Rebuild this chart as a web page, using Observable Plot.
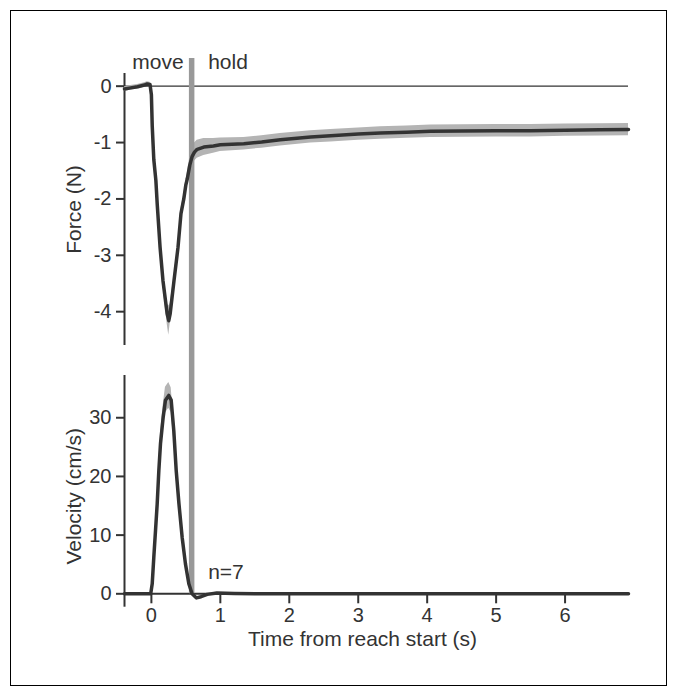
<!DOCTYPE html>
<html>
<head>
<meta charset="utf-8">
<script src="https://cdn.jsdelivr.net/npm/d3@7"></script>
<script src="https://cdn.jsdelivr.net/npm/@observablehq/plot@0.6"></script>
<style>
  html, body { margin: 0; padding: 0; background: #fff; }
  #wrap { position: relative; width: 677px; height: 696px; overflow: hidden; }
  #frame { position: absolute; left: 10px; top: 10px; width: 657px; height: 676px; border: 1px solid #000; box-sizing: border-box; }
  #topPanel, #bottomPanel { position: absolute; left: 0; }
  #topPanel { top: 0; }
  #bottomPanel { top: 360px; }
  svg { overflow: visible; }
</style>
</head>
<body>
<div id="wrap">
  <div id="frame"></div>
  <div id="topPanel"></div>
  <div id="bottomPanel"></div>
</div>
<script>
// ---------- data ----------
const xDomain = [-0.39, 6.92];
const holdTime = [0.584];
const phaseLabels = ["move", "hold"];
const nLabel = "n=7";
const forceTicks = [-4, -3, -2, -1, 0];
const velocityTicks = [0, 10, 20, 30];
const timeTicks = [0, 1, 2, 3, 4, 5, 6];
const forceLabel = "Force (N)";
const velocityLabel = "Velocity (cm/s)";
const timeLabel = "Time from reach start (s)";

const forceTime = [-0.39, -0.30, -0.20, -0.10, -0.06, -0.02, 0.00, 0.012, 0.035, 0.065, 0.085, 0.126, 0.168, 0.229, 0.252, 0.272, 0.328, 0.386, 0.429, 0.47, 0.50, 0.52, 0.557, 0.59, 0.625, 0.664, 0.76, 0.90, 1.00, 1.34, 1.60, 1.87, 2.31, 2.60, 3.00, 3.32, 3.70, 4.05, 4.50, 5.00, 5.50, 6.00, 6.50, 6.92];
const forceMean = [-0.05, -0.03, -0.01, 0.02, 0.04, 0.03, -0.15, -0.70, -1.30, -1.67, -2.10, -2.86, -3.45, -4.04, -4.16, -4.04, -3.45, -2.86, -2.26, -2.00, -1.75, -1.65, -1.40, -1.25, -1.17, -1.12, -1.08, -1.06, -1.04, -1.02, -0.99, -0.95, -0.90, -0.88, -0.85, -0.83, -0.815, -0.80, -0.795, -0.79, -0.79, -0.78, -0.775, -0.77];
const forceErr  = [0.04, 0.04, 0.04, 0.04, 0.04, 0.04, 0.06, 0.08, 0.08, 0.08, 0.08, 0.08, 0.10, 0.18, 0.26, 0.18, 0.08, 0.08, 0.08, 0.08, 0.09, 0.10, 0.13, 0.15, 0.16, 0.16, 0.15, 0.13, 0.12, 0.11, 0.11, 0.11, 0.11, 0.11, 0.11, 0.11, 0.11, 0.11, 0.11, 0.11, 0.11, 0.11, 0.11, 0.11];

const velTime = [-0.39, -0.20, -0.05, -0.01, 0.012, 0.035, 0.06, 0.084, 0.108, 0.132, 0.171, 0.204, 0.252, 0.287, 0.325, 0.36, 0.40, 0.446, 0.494, 0.543, 0.59, 0.654, 0.72, 0.81, 0.95, 1.20, 1.50, 2.00, 3.00, 4.00, 5.00, 6.00, 6.92];
const velMean = [0, 0, 0, 0, 1.7, 6.2, 10.8, 15.3, 21.0, 25.6, 30.1, 33.0, 33.8, 33.0, 27.8, 21.0, 15.3, 9.65, 5.1, 1.7, 0, -0.7, -0.5, -0.1, 0.15, 0.05, 0, 0, 0, 0, 0, 0, 0];
const velErr  = [0.05, 0.05, 0.05, 0.05, 0.3, 0.6, 0.9, 1.2, 1.5, 1.8, 2.0, 2.2, 2.2, 2.1, 1.8, 1.4, 1.1, 0.8, 0.5, 0.3, 0.2, 0.15, 0.1, 0.1, 0.05, 0.05, 0.05, 0.05, 0.05, 0.05, 0.05, 0.05, 0.05];

const forceRows = forceTime.map((t, i) => ({t, mean: forceMean[i], err: forceErr[i]}));
const velRows = velTime.map((t, i) => ({t, mean: velMean[i], err: velErr[i]}));

// ---------- style ----------
const ink = "#333";
const bandFill = "#b4b4b4";
const barStroke = "#999";
const style = {fontFamily: '"Liberation Sans", Arial, Helvetica, sans-serif', fontSize: "21px", color: ink, background: "transparent", overflow: "visible"};
const W = 677, ML = 124, MR = 49;
const plainFormat = d => String(d);

// ---------- force panel ----------
const topPlot = Plot.plot({
  width: W, height: 360,
  marginTop: 73, marginBottom: 15, marginLeft: ML, marginRight: MR,
  style,
  x: {domain: xDomain, axis: null},
  y: {domain: [-4.6, 0.225]},
  marks: [
    Plot.ruleX([xDomain[0]], {stroke: ink, strokeWidth: 2}),
    Plot.axisY(forceTicks, {tickSize: 8, tickPadding: 5, strokeWidth: 2, stroke: ink, fill: ink, label: null, tickFormat: plainFormat, fontSize: 20}),
    Plot.ruleY([0], {stroke: ink, strokeWidth: 1.3}),
    Plot.areaY(forceRows, {x: "t", y1: d => d.mean - d.err, y2: d => d.mean + d.err, fill: bandFill}),
    Plot.ruleX(holdTime, {stroke: barStroke, strokeWidth: 5.5, insetTop: -15, insetBottom: -15}),
    Plot.lineY(forceRows, {x: "t", y: "mean", stroke: ink, strokeWidth: 3.5, strokeLinejoin: "round"}),
    Plot.text(holdTime, {x: d => d, text: () => phaseLabels[0], frameAnchor: "top", lineAnchor: "bottom", textAnchor: "end", dx: -8, dy: -5, fill: ink}),
    Plot.text(holdTime, {x: d => d, text: () => phaseLabels[1], frameAnchor: "top", lineAnchor: "bottom", textAnchor: "start", dx: 16.5, dy: -5, fill: ink}),
    Plot.text([forceLabel], {frameAnchor: "left", rotate: -90, dx: -44, lineAnchor: "bottom", textAnchor: "middle", fill: ink})
  ]
});
document.getElementById("topPanel").append(topPlot);

// ---------- velocity panel ----------
const bottomPlot = Plot.plot({
  width: W, height: 336,
  marginTop: 15, marginBottom: 102.7, marginLeft: ML, marginRight: MR,
  style,
  x: {domain: xDomain},
  y: {domain: [0, 37.2]},
  marks: [
    Plot.ruleX([xDomain[0]], {stroke: ink, strokeWidth: 2, insetBottom: -13.4}),
    Plot.axisY(velocityTicks, {tickSize: 8, tickPadding: 5, strokeWidth: 2, stroke: ink, fill: ink, label: null, tickFormat: plainFormat, fontSize: 20}),
    Plot.ruleY([0], {stroke: ink, strokeWidth: 2}),
    Plot.axisX(timeTicks, {tickSize: 10, tickPadding: 4, strokeWidth: 2, stroke: ink, fill: ink, label: null, tickFormat: plainFormat, fontSize: 20}),
    Plot.areaY(velRows, {x: "t", y1: d => d.mean - d.err, y2: d => d.mean + d.err, fill: bandFill}),
    Plot.ruleX(holdTime, {stroke: barStroke, strokeWidth: 5.5, insetTop: -15}),
    Plot.lineY(velRows, {x: "t", y: "mean", stroke: ink, strokeWidth: 3.5, strokeLinejoin: "round"}),
    Plot.text(holdTime, {x: d => d, y: 0, text: () => nLabel, textAnchor: "start", lineAnchor: "bottom", dx: 16.5, dy: -15, fill: ink}),
    Plot.text([velocityLabel], {frameAnchor: "left", rotate: -90, dx: -44, dy: 11.6, lineAnchor: "bottom", textAnchor: "middle", fill: ink}),
    Plot.text([timeLabel], {frameAnchor: "bottom", dx: -14, dy: 51.7, lineAnchor: "bottom", textAnchor: "middle", fill: ink})
  ]
});
document.getElementById("bottomPanel").append(bottomPlot);
</script>
</body>
</html>
